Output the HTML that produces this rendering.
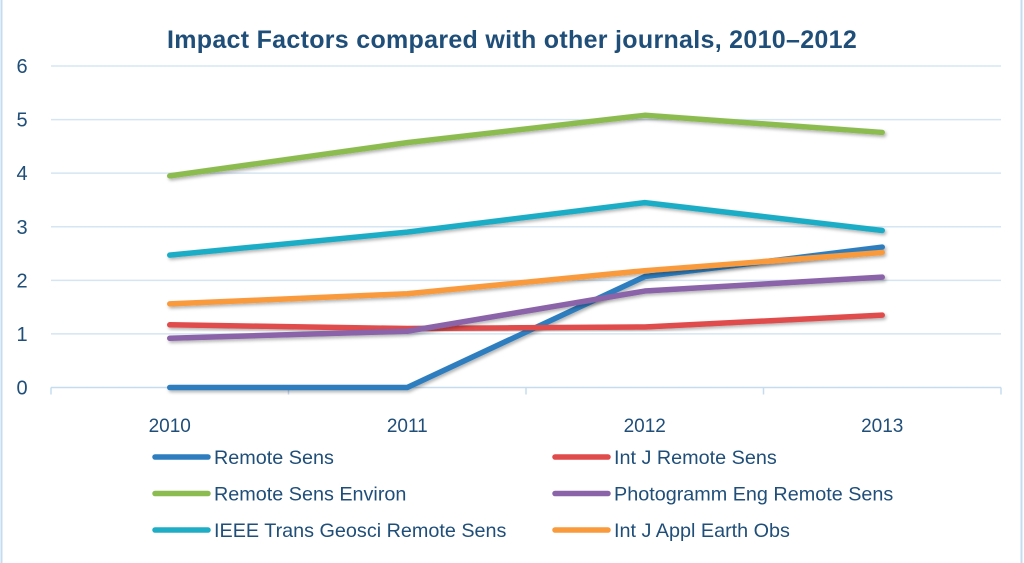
<!DOCTYPE html>
<html><head><meta charset="utf-8"><style>
body{margin:0;background:#fff;}
svg{display:block;font-family:"Liberation Sans",sans-serif;}
</style></head><body>
<svg id="chart" width="1024" height="563" viewBox="0 0 1024 563">
<defs><filter id="sh" x="-5%" y="-20%" width="110%" height="140%"><feDropShadow dx="1.5" dy="2" stdDeviation="1.5" flood-color="#000" flood-opacity="0.3"/></filter></defs>
<rect x="1.5" y="-2" width="1020" height="570" fill="#fff" stroke="#c5dcef" stroke-width="2"/>
<text x="512" y="48" text-anchor="middle" font-size="25" font-weight="bold" fill="#1f4e79" letter-spacing="0.3">Impact Factors compared with other journals, 2010–2012</text>
<g id="grid"></g><g id="axes"></g><g id="series"></g><g id="legend"></g>
</svg>
<script>
const categories=["2010","2011","2012","2013"];
const yTicks=[0,1,2,3,4,5,6];
const seriesNames=["Remote Sens","Int J Remote Sens","Remote Sens Environ","Photogramm Eng Remote Sens","IEEE Trans Geosci Remote Sens","Int J Appl Earth Obs"];
const remoteSens=[0,0,2.07,2.62];
const intJRemoteSens=[1.17,1.1,1.13,1.35];
const remoteSensEnviron=[3.95,4.57,5.08,4.76];
const photogramm=[0.92,1.05,1.8,2.06];
const ieeeTrans=[2.47,2.9,3.45,2.93];
const intJApplEarth=[1.56,1.75,2.18,2.52];
const colors=["#2e7ebf","#e04b4b","#8cbc4f","#8a63a8","#1fadc6","#f99a3c"];
const allSeries=[remoteSens,intJRemoteSens,remoteSensEnviron,photogramm,ieeeTrans,intJApplEarth];
const NS="http://www.w3.org/2000/svg";
const L=51,R=1001,Y0=387.5,Y6=66;
const band=(R-L)/categories.length;
const x=i=>L+band*(i+0.5);
const y=v=>Y0-(Y0-Y6)*v/6;
function mk(tag,attrs,parent){const e=document.createElementNS(NS,tag);for(const k in attrs)e.setAttribute(k,attrs[k]);parent.appendChild(e);return e;}
const grid=document.getElementById('grid'),axes=document.getElementById('axes'),ser=document.getElementById('series'),leg=document.getElementById('legend');
yTicks.forEach(t=>{
 if(t>0){const g=mk('line',{x1:L,x2:R,y1:y(t),y2:y(t),stroke:'#d5e5f3','stroke-width':1.5},grid);
 
 }
 const tl=mk('text',{x:22,y:y(t)+7,'text-anchor':'middle','font-size':20,fill:'#1f4e79'},axes);tl.textContent=t;
 
 
});
const ax=mk('line',{x1:L,x2:R,y1:Y0,y2:Y0,stroke:'#c5dcef','stroke-width':1.5},axes);


for(let i=0;i<=categories.length;i++){const tk=mk('line',{x1:L+band*i,x2:L+band*i,y1:Y0,y2:Y0+7,stroke:'#c5dcef','stroke-width':1.5},axes);
 
 }
categories.forEach((c,i)=>{const t=mk('text',{x:x(i),y:432,'text-anchor':'middle','font-size':19,fill:'#1f4e79'},axes);t.textContent=c;
 
 });
allSeries.forEach((d,s)=>{
 const p=mk('polyline',{points:d.map((v,i)=>x(i)+','+y(v)).join(' '),fill:'none',stroke:colors[s],'stroke-width':5.5,'stroke-linecap':'round','stroke-linejoin':'round',filter:'url(#sh)'},ser);
 
 
 const col=s%2,row=Math.floor(s/2);
 const lx=col?555:155,ly=457+row*36.5;
 const g=mk('g',{},leg);
 
 
 mk('line',{x1:lx,x2:lx+53,y1:ly,y2:ly,stroke:colors[s],'stroke-width':5.5,'stroke-linecap':'round'},g);
 const t=mk('text',{x:lx+59,y:ly+7,'font-size':19.8,fill:'#1f4e79'},g);t.textContent=seriesNames[s];
});
</script>
</body></html>
